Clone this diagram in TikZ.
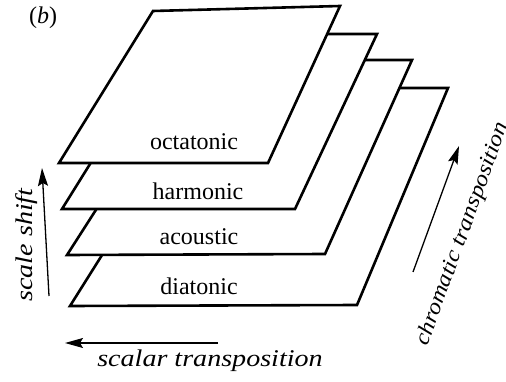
\documentclass[tikz,border=0pt]{standalone}
\usepackage{fontspec}
\setmainfont{Liberation Serif}
\usetikzlibrary{arrows.meta}

\begin{document}
\begin{tikzpicture}[
    x=1pt, y=-1pt,
    every node/.style={font=\fontsize{24}{27}\selectfont},
    wide/.style={font=\fontsize{24}{27}\selectfont\itshape\addfontfeature{FakeStretch=1.17}},
    sheet/.style={draw=black, fill=white, line width=2.6pt, line join=miter},
    move/.style={-{Stealth[length=18pt, width=10pt, inset=3pt]}, line width=1.3pt},
]

\useasboundingbox (0,0) rectangle (506,382);

% ---------------------------------------------------------------- sheets
% back to front, each one covers the one behind it
\draw[sheet] (70,306) -- (357,305) -- (448,88) -- (207,88) -- cycle;   % diatonic
\draw[sheet] (67,255) -- (325,254) -- (412,60) -- (192,60) -- cycle;   % acoustic
\draw[sheet] (62,209) -- (295,209) -- (377,34) -- (171,34) -- cycle;   % harmonic
\draw[sheet] (59,163) -- (268,163) -- (340,6) -- (153,11) -- cycle;    % octatonic

\node (diatonic)  at (199,286) {diatonic};
\node (acoustic)  at (199,237) {acoustic};
\node (harmonic)  at (198,191) {harmonic};
\node (octatonic) at (194,142) {octatonic};

\node (panel) at (43,18) {(\textit{b})};

% ---------------------------------------------------------------- arrows
\coordinate (shiftfrom) at (49,296);
\coordinate (shiftto)   at (42,168);
\draw[move] (shiftfrom) -- (shiftto);
\node[wide, rotate=90] (shiftlabel) at (27,245) {scale shift};

\coordinate (scalarfrom) at (218,343);
\coordinate (scalarto)   at (65,343);
\draw[move] (scalarfrom) -- (scalarto);
\node[wide] (scalarlabel) at (210,361) {scalar transposition};

\coordinate (chromafrom) at (413,272);
\coordinate (chromato)   at (459,146);
\draw[move] (chromafrom) -- (chromato);
\node[wide, font=\fontsize{22}{25}\selectfont\itshape\addfontfeature{FakeStretch=1.12},
      rotate=70] (chromalabel) at (463,234) {chromatic transposition};

\end{tikzpicture}
\end{document}
